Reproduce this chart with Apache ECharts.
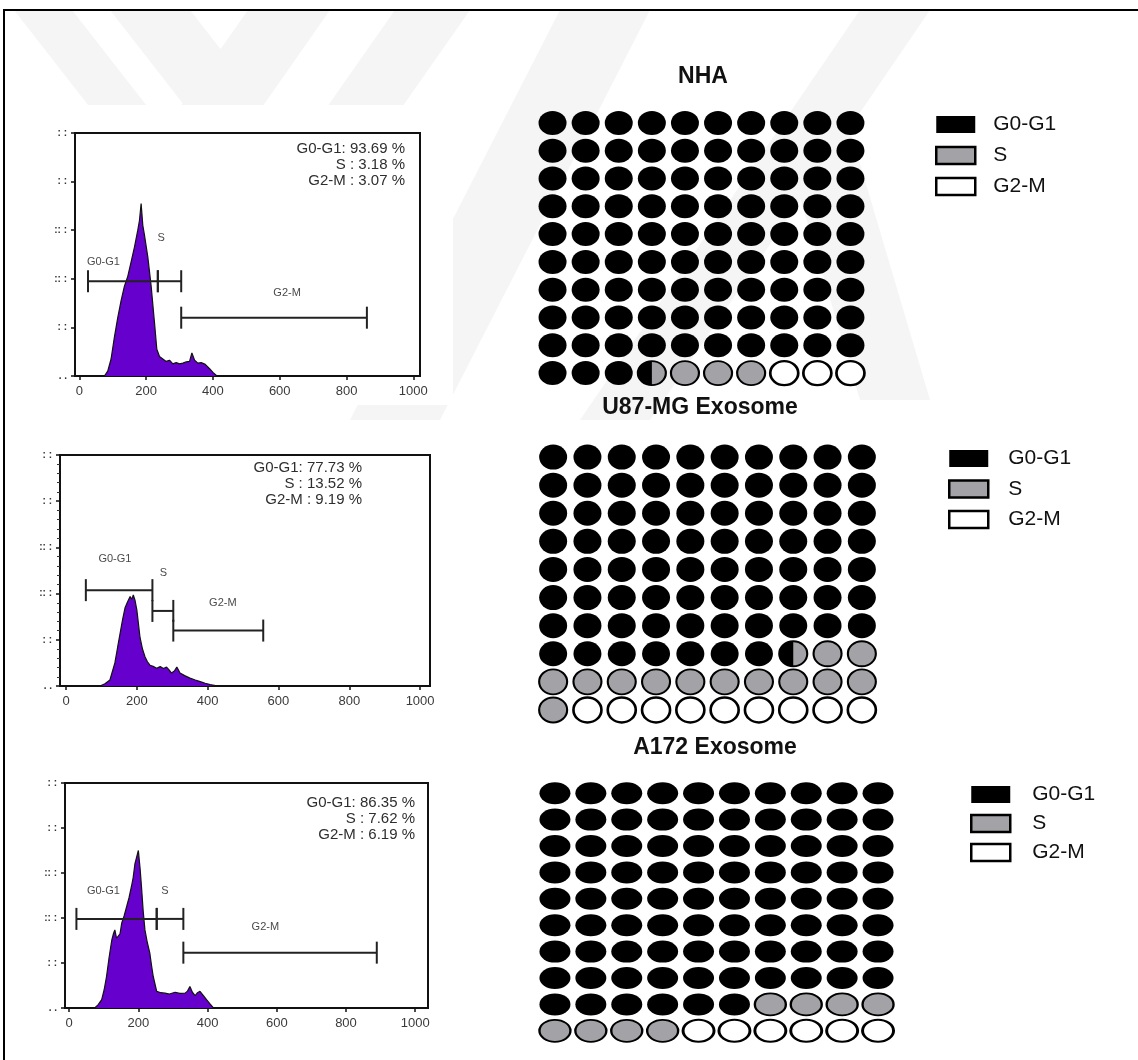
<!DOCTYPE html>
<html>
<head>
<meta charset="utf-8">
<script src="https://cdn.jsdelivr.net/npm/echarts@6/dist/echarts.min.js"></script>
<style>
  html, body { margin: 0; padding: 0; background: #fff; }
  #main { width: 1138px; height: 1060px; }
</style>
</head>
<body>
<div id="main"></div>
<script>
// panels and cell-cycle phases
const panels = ['NHA', 'U87-MG Exosome', 'A172 Exosome'];
const phases = ['G0-G1', 'S', 'G2-M'];
const pctG0G1 = [93.69, 77.73, 86.35];
const pctS = [3.18, 13.52, 7.62];
const pctG2M = [3.07, 9.19, 6.19];

// dots of each 10x10 panel (split = one dot half G0-G1, half S)
const dotsG0G1 = [93, 77, 86];
const dotsSplit = [1, 1, 0];
const dotsS = [3, 13, 8];
const dotsG2M = [3, 9, 6];

// DNA content histograms (channel, relative count)
const hist1Channel = [75, 85, 95, 105, 115, 125, 135, 145, 155, 165, 175, 180, 185, 190, 195, 205, 215, 225, 232, 240, 250, 260, 270, 280, 290, 300, 310, 320, 330, 337, 345, 355, 365, 377, 390, 400, 412];
const hist1Count = [0, 2, 7, 16, 24, 31, 37, 41, 47, 53, 60, 64, 71, 62, 58, 49, 37, 22, 11, 8, 7, 6, 6.5, 5, 5.5, 5, 5.3, 5.8, 6, 9.5, 6.5, 5.3, 5.5, 4.8, 3, 1.5, 0];
const hist2Channel = [96, 110, 124, 138, 146, 153, 160, 167, 174, 181, 186, 190, 195, 200, 209, 216, 223, 230, 237, 246, 256, 266, 275, 284, 291, 298, 306, 313, 322, 335, 350, 365, 379, 393, 407, 430];
const hist2Count = [0, 1, 2.6, 10, 17, 23, 29, 34, 36.5, 38.7, 37.5, 39.4, 37, 33, 21, 16, 12.7, 10.5, 9, 8.5, 7.7, 8.4, 7.6, 8.2, 7, 5.6, 6.5, 8.2, 5.6, 4.5, 3.4, 2.6, 1.9, 1.2, 0.6, 0];
const hist3Channel = [74, 84, 94, 101, 108, 115, 123, 128, 132, 137, 142, 147, 152, 159, 166, 173, 180, 185, 190, 195, 200, 205, 209, 214, 219, 226, 233, 238, 243, 253, 265, 277, 290, 306, 320, 335, 342, 349, 356, 364, 371, 378, 388, 397, 407, 417];
const hist3Count = [0, 1.5, 3.7, 8, 14, 22, 30, 33, 34.7, 31, 31.7, 33, 37.8, 41, 45, 49, 54, 58, 64, 67, 70, 62, 54, 43, 34.7, 29, 24.5, 19, 14, 7.4, 6.8, 6.6, 6.2, 7, 6.5, 6.6, 7.5, 9.6, 7, 5.5, 6.8, 7.4, 5.5, 3.7, 1.8, 0];

// gate ranges (channel start, end) for G0-G1, S, G2-M
const gates1 = [[26, 235], [235, 305], [305, 861]];
const gates2 = [[56, 244], [244, 303], [303, 557]];
const gates3 = [[21, 253], [253, 330], [330, 889]];

const xTicks = [0, 200, 400, 600, 800, 1000];
const yTickMarks = ['. .', ': :', ':: :', ':: :', ': :', ': :'];

// ---- layout ----
const FONT = '"Liberation Sans", Arial, sans-serif';
const channels = [hist1Channel, hist2Channel, hist3Channel];
const counts = [hist1Count, hist2Count, hist3Count];
const gates = [gates1, gates2, gates3];
const gateLevel = [[39, 39, 24], [41.5, 32.5, 24], [39.6, 39.6, 24.6]];
const gateLabelAt = [
    [[72, 47], [245, 57], [622, 34]],
    [[138, 55], [275, 49], [443, 36]],
    [[99, 52], [277, 52], [567, 36]]
];
const histBox = [
    {left: 75, top: 133, width: 345, height: 243, min: -13, max: 1020},
    {left: 60, top: 455, width: 370, height: 231, min: -17, max: 1028},
    {left: 65, top: 783, width: 363, height: 225, min: -12, max: 1037}
];
const waffleBox = [
    {left: 536, top: 109, width: 331, height: 278, dot: [28, 24]},
    {left: 536, top: 443, width: 343, height: 281, dot: [28, 25]},
    {left: 537, top: 780, width: 359, height: 264, dot: [31, 22]}
];
const titlePos = [[703, 77], [700, 408], [715, 748]];
const legendPos = [[930, 109], [943, 443], [965, 779]];
const legendGap = [10, 9.5, 8];
const legendPad = [13, 15, 17];
const pctPos = [[405, 149], [362, 468], [415, 803]];

const GRAY = '#a3a3a7';
const halfDot = 'path://M50,0 C22.4,0 0,22.4 0,50 C0,77.6 22.4,100 50,100 Z';

const chart = echarts.init(document.getElementById('main'));

const grid = [];
const xAxis = [];
const yAxis = [];
const series = [];

// histograms
histBox.forEach((b, i) => {
    grid.push({left: b.left, top: b.top, width: b.width, height: b.height,
        show: true, borderColor: '#111', borderWidth: 2, backgroundColor: '#fff'});
    xAxis.push({
        type: 'value', gridIndex: i, min: b.min, max: b.max,
        splitLine: {show: false},
        axisLine: {show: true, onZero: false, lineStyle: {color: '#111', width: 2}},
        axisTick: {show: true, customValues: xTicks, length: 4, lineStyle: {color: '#111', width: 1.5}},
        axisLabel: {customValues: xTicks, fontSize: 13, color: '#3a3a3a', margin: 9, fontFamily: FONT,
            formatter: v => String(v)}
    });
    yAxis.push({
        type: 'value', gridIndex: i, min: 0, max: 100, interval: 20,
        splitLine: {show: false},
        axisLine: {show: true, onZero: false, lineStyle: {color: '#111', width: 2}},
        axisTick: {show: true, length: 4, lineStyle: {color: '#111', width: 1.5}},
        minorTick: {show: i === 1, splitNumber: 5, length: 3, lineStyle: {color: '#333'}},
        axisLabel: {fontSize: 10, color: '#333', margin: 8, fontWeight: 'bold',
            formatter: v => yTickMarks[Math.round(v / 20)] || ''}
    });
    series.push({
        name: panels[i] + ' DNA content', type: 'line', xAxisIndex: i, yAxisIndex: i,
        data: channels[i].map((c, k) => [c, counts[i][k]]),
        symbol: 'none', silent: true, z: 2,
        lineStyle: {color: '#111', width: 1.2},
        areaStyle: {color: '#6600cc', opacity: 1}
    });
    series.push({
        name: panels[i] + ' gates', type: 'custom', xAxisIndex: i, yAxisIndex: i,
        data: gates[i].map((g, k) => [g[0], g[1], gateLevel[i][k]]),
        silent: true, z: 4,
        renderItem: (params, api) => {
            const k = params.dataIndex;
            const s = api.coord([api.value(0), api.value(2)]);
            const e = api.coord([api.value(1), api.value(2)]);
            const lab = api.coord(gateLabelAt[i][k]);
            const st = {stroke: '#222', lineWidth: 2};
            const cap = 11;
            return {type: 'group', children: [
                {type: 'line', shape: {x1: s[0], y1: s[1], x2: e[0], y2: e[1]}, style: st},
                {type: 'line', shape: {x1: s[0], y1: s[1] - cap, x2: s[0], y2: s[1] + cap}, style: st},
                {type: 'line', shape: {x1: e[0], y1: e[1] - cap, x2: e[0], y2: e[1] + cap}, style: st},
                {type: 'text', x: lab[0], y: lab[1], style: {text: phases[k], fill: '#4a4a4a',
                    font: '11px ' + FONT, align: 'center', verticalAlign: 'middle'}}
            ]};
        }
    });
});

// waffle panels
waffleBox.forEach((b, i) => {
    const gi = 3 + i;
    grid.push({left: b.left, top: b.top, width: b.width, height: b.height});
    xAxis.push({type: 'value', gridIndex: gi, min: 0.5, max: 10.5, show: false});
    yAxis.push({type: 'value', gridIndex: gi, min: 0.5, max: 10.5, inverse: true, show: false});

    const kinds = [];
    for (let k = 0; k < dotsG0G1[i]; k++) kinds.push('g');
    for (let k = 0; k < dotsSplit[i]; k++) kinds.push('x');
    for (let k = 0; k < dotsS[i]; k++) kinds.push('s');
    for (let k = 0; k < dotsG2M[i]; k++) kinds.push('m');
    const pos = k => [k % 10 + 1, Math.floor(k / 10) + 1];
    const pick = list => kinds.map((t, k) => list.includes(t) ? pos(k) : null).filter(Boolean);

    const base = {type: 'scatter', xAxisIndex: gi, yAxisIndex: gi, symbol: 'circle',
        symbolSize: b.dot, silent: true};
    series.push(Object.assign({}, base, {name: 'G0-G1', data: pick(['g']),
        itemStyle: {color: '#000', opacity: 1}}));
    series.push(Object.assign({}, base, {name: 'S', data: pick(['s', 'x']),
        itemStyle: {color: GRAY, borderColor: '#000', borderWidth: 2, opacity: 1}}));
    series.push(Object.assign({}, base, {name: 'G0-G1 part', data: pick(['x']),
        symbol: halfDot, symbolKeepAspect: false, symbolSize: [b.dot[0] / 2, b.dot[1]],
        symbolOffset: [-b.dot[0] / 4, 0], itemStyle: {color: '#000', opacity: 1}, z: 3}));
    series.push(Object.assign({}, base, {name: 'G2-M', data: pick(['m']),
        itemStyle: {color: '#fff', borderColor: '#000', borderWidth: 2.5, opacity: 1}}));
});

const legend = panels.map((p, i) => ({
    orient: 'vertical', left: legendPos[i][0], top: legendPos[i][1],
    itemWidth: 39, itemHeight: 17, itemGap: legendGap[i], selectedMode: false,
    textStyle: {fontSize: 21, color: '#111', fontFamily: FONT, lineHeight: 17,
        padding: [0, 0, 0, legendPad[i]]},
    data: [
        {name: 'G0-G1', icon: 'rect', itemStyle: {color: '#000', borderColor: '#000', borderWidth: 0}},
        {name: 'S', icon: 'rect', itemStyle: {color: GRAY, borderColor: '#000', borderWidth: 2.5}},
        {name: 'G2-M', icon: 'rect', itemStyle: {color: '#fff', borderColor: '#000', borderWidth: 2.5}}
    ]
}));

// faint watermark stripes, frame, titles, percentages
const graphic = [];
const stripes = [
    [[14, 10], [72, 10], [150, 110], [92, 110]],
    [[110, 10], [190, 10], [268, 110], [188, 110]],
    [[248, 10], [330, 10], [260, 110], [178, 110]],
    [[395, 10], [470, 10], [400, 110], [325, 110]],
    [[560, 10], [650, 10], [440, 420], [350, 420]],
    [[860, 10], [930, 10], [650, 420], [580, 420]],
    [[780, 130], [850, 130], [930, 400], [860, 400]]
];
stripes.forEach(pts => graphic.push({type: 'polygon', z: -2, silent: true,
    shape: {points: pts}, style: {fill: '#f5f5f5'}}));
graphic.push({type: 'rect', z: -1, silent: true, shape: {x: 28, y: 105, width: 425, height: 300},
    style: {fill: '#fff'}});
graphic.push({type: 'rect', z: 10, silent: true, shape: {x: 4, y: 10, width: 1160, height: 1080},
    style: {fill: 'none', stroke: '#000', lineWidth: 2}});
panels.forEach((p, i) => {
    graphic.push({type: 'text', x: titlePos[i][0], y: titlePos[i][1], z: 5,
        style: {text: p, font: 'bold 23px ' + FONT, fill: '#111', align: 'center', verticalAlign: 'middle'}});
    const lines = [
        'G0-G1: ' + pctG0G1[i].toFixed(2) + ' %',
        'S : ' + pctS[i].toFixed(2) + ' %',
        'G2-M : ' + pctG2M[i].toFixed(2) + ' %'
    ];
    lines.forEach((t, k) => graphic.push({type: 'text', x: pctPos[i][0], y: pctPos[i][1] + k * 16, z: 5,
        style: {text: t, font: '15px ' + FONT, fill: '#2e2e2e', align: 'right', verticalAlign: 'middle'}}));
});

chart.setOption({
    animation: false,
    backgroundColor: '#fff',
    grid: grid,
    xAxis: xAxis,
    yAxis: yAxis,
    legend: legend,
    graphic: graphic,
    series: series
});
</script>
</body>
</html>
